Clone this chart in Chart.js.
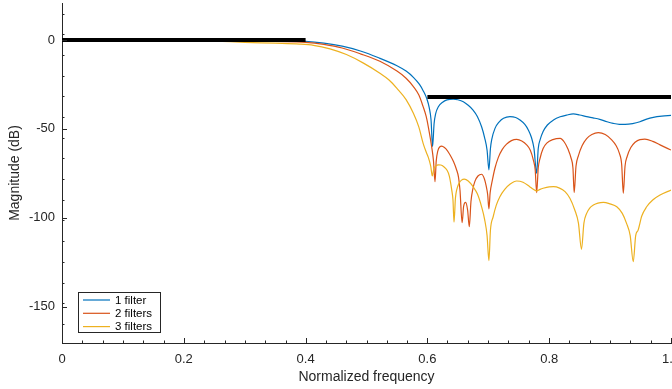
<!DOCTYPE html>
<html><head><meta charset="utf-8">
<script src="https://cdn.jsdelivr.net/npm/chart.js@4.4.0/dist/chart.umd.min.js"></script>
<style>html,body{margin:0;padding:0;background:#fff;overflow:hidden}#wrap{width:672px;height:389px}</style>
</head><body><div id="wrap"><canvas id="c" width="672" height="389"></canvas></div>
<script>
// ---- data ----
const seriesLabels = ['1 filter', '2 filters', '3 filters'];

const freq1 = [0, 0.1, 0.2, 0.3, 0.35, 0.4, 0.43, 0.46, 0.49, 0.52, 0.55, 0.565, 0.577, 0.587, 0.593, 0.599, 0.603, 0.606, 0.6085, 0.611, 0.6135, 0.618, 0.625, 0.632, 0.6425, 0.65, 0.659, 0.667, 0.675, 0.682, 0.689, 0.694, 0.698, 0.701, 0.7035, 0.7056, 0.711, 0.718, 0.725, 0.7356, 0.745, 0.752, 0.76, 0.7657, 0.771, 0.775, 0.7794, 0.782, 0.785, 0.79, 0.797, 0.807, 0.818, 0.829, 0.8396, 0.85, 0.8615, 0.872, 0.883, 0.895, 0.905, 0.915, 0.9245, 0.937, 0.949, 0.96, 0.971, 0.985, 1.0];
const mag1  = [0, 0, 0, -0.2, -0.4, -0.8, -1.8, -3.5, -6.2, -10, -14.5, -17.5, -21, -25, -28.5, -33, -38, -45, -60, -47, -41.5, -37.5, -35, -33.7, -33.2, -33.6, -34.7, -36.7, -39.4, -43, -48.8, -55, -62, -73, -61, -56, -49.7, -46, -44, -43.1, -43.6, -45, -47.5, -50.6, -55, -61, -75, -61, -56.2, -51.5, -47.8, -45, -43.2, -42.2, -41.6, -42.2, -43.1, -43.8, -44.6, -46, -46.9, -47.4, -47.4, -47, -46, -44.5, -43.5, -42.8, -42.4];

const freq2 = [0, 0.1, 0.2, 0.3, 0.35, 0.4, 0.43, 0.46, 0.49, 0.522, 0.55, 0.565, 0.577, 0.586, 0.593, 0.598, 0.6015, 0.607, 0.61, 0.6125, 0.6145, 0.617, 0.6205, 0.6235, 0.628, 0.633, 0.637, 0.643, 0.648, 0.651, 0.6535, 0.657, 0.6595, 0.6628, 0.666, 0.6688, 0.6715, 0.6745, 0.678, 0.683, 0.689, 0.6935, 0.6965, 0.699, 0.701, 0.703, 0.7066, 0.711, 0.7165, 0.723, 0.73, 0.738, 0.7466, 0.755, 0.763, 0.769, 0.774, 0.777, 0.7794, 0.782, 0.785, 0.79, 0.796, 0.806, 0.818, 0.825, 0.831, 0.836, 0.839, 0.841, 0.844, 0.848, 0.854, 0.8615, 0.87, 0.8807, 0.892, 0.9026, 0.91, 0.915, 0.919, 0.9217, 0.9245, 0.928, 0.934, 0.941, 0.949, 0.957, 0.97, 0.982, 1.0];
const mag2  = [0, 0, -0.1, -0.5, -0.8, -1.3, -2.5, -4.5, -7.8, -12, -17.5, -21.5, -26.2, -31, -37.5, -43, -48.8, -60, -68, -79.7, -68, -62.5, -60, -59.7, -60.5, -62.3, -64.5, -68.5, -73.1, -77, -84.4, -102.7, -93.5, -91.3, -95.6, -105, -91, -84, -79.5, -76.5, -75.5, -78, -82, -87, -95, -86, -79, -72, -66, -61.5, -58.6, -56.6, -55.9, -56.8, -59, -62, -67.5, -73, -85.9, -72, -66.5, -61, -58, -56, -55.3, -57.5, -61.5, -66.5, -72, -85.9, -71, -65, -59.5, -55.5, -53.2, -52.1, -53.2, -56.2, -59.5, -63.5, -70, -86.2, -71, -65.5, -60.5, -57.5, -56, -55.8, -57, -59, -61.9];

const freq3 = [0, 0.1, 0.2, 0.25, 0.3, 0.35, 0.39, 0.413, 0.44, 0.467, 0.495, 0.522, 0.537, 0.55, 0.565, 0.577, 0.586, 0.593, 0.598, 0.6015, 0.6055, 0.608, 0.6105, 0.614, 0.618, 0.622, 0.627, 0.632, 0.636, 0.64, 0.642, 0.6437, 0.646, 0.648, 0.652, 0.656, 0.6606, 0.667, 0.675, 0.682, 0.689, 0.694, 0.698, 0.701, 0.7035, 0.708, 0.713, 0.719, 0.727, 0.736, 0.7466, 0.757, 0.768, 0.774, 0.7794, 0.785, 0.79, 0.8, 0.807, 0.817, 0.826, 0.834, 0.842, 0.848, 0.853, 0.857, 0.8615, 0.8665, 0.8725, 0.88, 0.889, 0.9, 0.911, 0.92, 0.927, 0.933, 0.938, 0.942, 0.946, 0.952, 0.96, 0.97, 0.982, 1.0];
const mag3  = [0, 0, -0.2, -0.6, -1.3, -1.8, -2.3, -3, -5, -8.2, -13, -18.7, -22.5, -27.2, -33.5, -41.2, -49, -58.1, -63, -66, -71, -76.5, -72.5, -70.8, -70.2, -70.3, -71.3, -73.1, -76.5, -84.4, -90, -102.5, -89, -84.4, -80.5, -78.8, -78.3, -79.3, -82.5, -86.5, -93.8, -101, -110, -124.1, -107, -99.4, -93, -88.1, -84, -81, -79.3, -80, -82.5, -84, -84.9, -84, -83.4, -82.6, -82.5, -83.3, -85.3, -89, -95.6, -103, -117.7, -103, -97.5, -94.5, -92.8, -91.7, -91.3, -92.2, -93.8, -97.5, -103.1, -110, -124.7, -110, -106.9, -99, -93.8, -90, -87.2, -84.4];

// specification mask (thick black lines)
const passFreq = [0, 0.4];
const passMag  = [0, 0];
const stopFreq = [0.6, 1.0];
const stopMag  = [-32, -32];

// axis ticks
const xTicks = [0, 0.2, 0.4, 0.6, 0.8, 1];
const yTicks = [0, -50, -100, -150];
const xMinorTicks = [0.033, 0.067, 0.1, 0.133, 0.167, 0.233, 0.267, 0.3, 0.333, 0.367, 0.433, 0.467, 0.5, 0.533, 0.567, 0.633, 0.667, 0.7, 0.733, 0.767, 0.833, 0.867, 0.9, 0.933, 0.967];
const yMinorTicks = [14.8, 3.2, -8.4, -20.1, -31.7, -43.3, -55, -66.6, -78.2, -89.9, -101.5, -113.1, -124.8, -136.4, -148, -159.7];
const xRange = [0, 1];
const yRange = [-170.4, 20.8];
const xTitle = 'Normalized frequency';
const yTitle = 'Magnitude (dB)';

// ---- build ----
const pts = (f, m) => f.map((v, i) => ({x: v, y: m[i]}));
const colors = ['#0072BD', '#D95319', '#EDB120'];
const FONT = '"Liberation Sans", Arial, Helvetica, sans-serif';
const AXC = '#262626';

const datasets = [
  {label: 'spec-pass', data: pts(passFreq, passMag), borderColor: '#000', borderWidth: 4, order: 0, legend: false},
  {label: 'spec-stop', data: pts(stopFreq, stopMag), borderColor: '#000', borderWidth: 4, order: 0, legend: false},
  {label: seriesLabels[0], data: pts(freq1, mag1), borderColor: colors[0], borderWidth: 1.2, order: 3, legend: true, cubicInterpolationMode: 'monotone'},
  {label: seriesLabels[1], data: pts(freq2, mag2), borderColor: colors[1], borderWidth: 1.2, order: 2, legend: true, cubicInterpolationMode: 'monotone'},
  {label: seriesLabels[2], data: pts(freq3, mag3), borderColor: colors[2], borderWidth: 1.2, order: 1, legend: true, cubicInterpolationMode: 'monotone'}
];
datasets.forEach(d => { d.pointRadius = 0; d.fill = false; d.borderCapStyle = 'butt'; });

const tickPlugin = {
  id: 'inwardTicks',
  afterDatasetsDraw(chart) {
    const {ctx, chartArea: a, scales: {x, y}} = chart;
    ctx.save();
    ctx.strokeStyle = AXC; ctx.lineWidth = 1;
    ctx.beginPath();
    const xt = (v, len) => { const p = Math.round(x.getPixelForValue(v)) + 0.5; ctx.moveTo(p, a.bottom); ctx.lineTo(p, a.bottom - len); };
    const yt = (v, len) => { const p = Math.round(y.getPixelForValue(v)) + 0.5; ctx.moveTo(a.left, p); ctx.lineTo(a.left + len, p); };
    xTicks.forEach(v => xt(v, 5)); xMinorTicks.forEach(v => xt(v, 2.5));
    yTicks.forEach(v => yt(v, 5)); yMinorTicks.forEach(v => yt(v, 2.5));
    ctx.stroke();
    ctx.restore();
  }
};

const legendPlugin = {
  id: 'boxLegend',
  afterDraw(chart) {
    const ctx = chart.ctx;
    const items = chart.data.datasets.filter(d => d.legend);
    const bx = 78, by = 292, bw = 82, bh = 40;
    ctx.save();
    ctx.fillStyle = '#fff'; ctx.fillRect(bx, by, bw, bh);
    ctx.strokeStyle = AXC; ctx.lineWidth = 1; ctx.strokeRect(bx + 0.5, by + 0.5, bw, bh);
    ctx.font = '11.5px ' + FONT; ctx.textBaseline = 'middle'; ctx.fillStyle = '#000';
    items.forEach((d, i) => {
      const yy = by + 8 + i * 13.3;
      ctx.strokeStyle = d.borderColor; ctx.lineWidth = 1.2;
      ctx.beginPath(); ctx.moveTo(bx + 5, yy); ctx.lineTo(bx + 32, yy); ctx.stroke();
      ctx.fillText(d.label, bx + 37, yy + 0.5);
    });
    ctx.restore();
  }
};

new Chart(document.getElementById('c'), {
  type: 'line',
  data: {datasets},
  plugins: [tickPlugin, legendPlugin],
  options: {
    responsive: false, animation: false, devicePixelRatio: 1,
    layout: {padding: {top: 3, right: 1, left: 0, bottom: 0}},
    plugins: {legend: {display: false}, tooltip: {enabled: false}},
    scales: {
      x: {
        type: 'linear', min: xRange[0], max: xRange[1],
        afterBuildTicks: s => { s.ticks = xTicks.map(v => ({value: v})); },
        afterFit: s => { s.height = 46; s.paddingLeft = 0; s.paddingRight = 0; },
        grid: {display: false, drawTicks: false},
        border: {display: true, color: AXC, width: 1},
        ticks: {autoSkip: false, maxRotation: 0, padding: 9, color: '#262626', font: {family: FONT, size: 13}},
        title: {display: true, text: xTitle, color: '#262626', font: {family: FONT, size: 14}, padding: {top: 0, bottom: 3.6}}
      },
      y: {
        type: 'linear', min: yRange[0], max: yRange[1],
        afterBuildTicks: s => { s.ticks = yTicks.map(v => ({value: v})); },
        afterFit: s => { s.width = 62; s.paddingTop = 0; s.paddingBottom = 0; },
        grid: {display: false, drawTicks: false},
        border: {display: true, color: AXC, width: 1},
        ticks: {autoSkip: false, padding: 7, color: '#262626', font: {family: FONT, size: 13}},
        title: {display: true, text: yTitle, color: '#262626', font: {family: FONT, size: 14}, padding: {top: 7, bottom: 0}}
      }
    }
  }
});
</script></body></html>
